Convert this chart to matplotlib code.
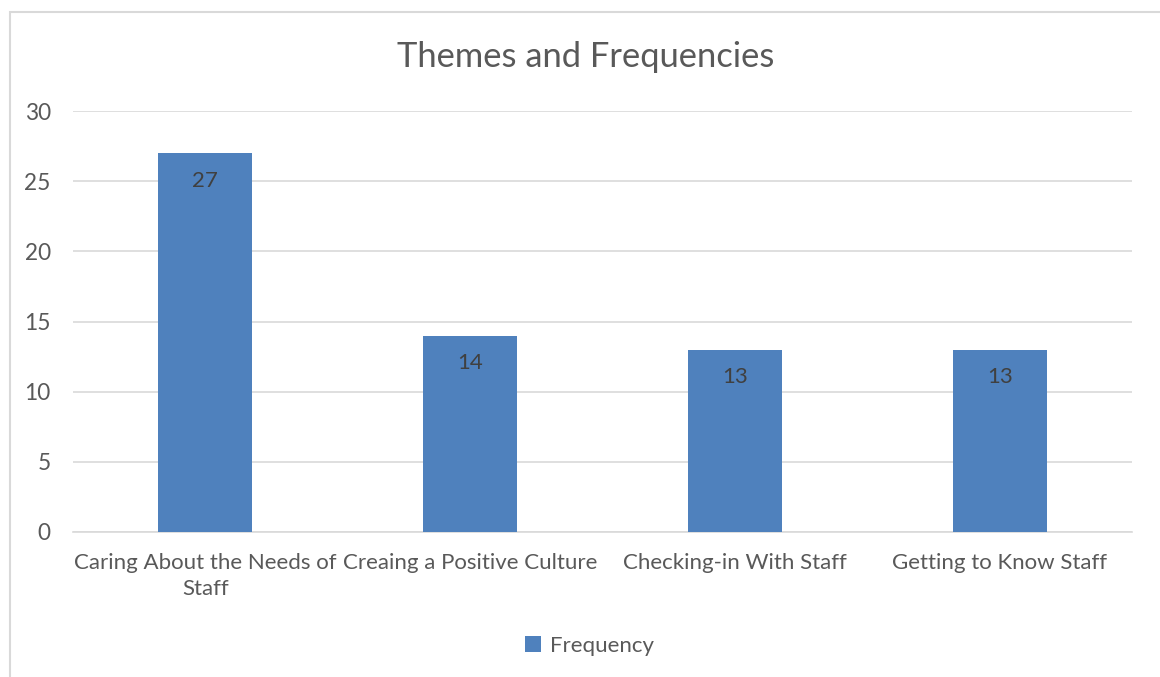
import numpy as np
import matplotlib.pyplot as plt
from matplotlib.patches import Rectangle

plt.rcParams['font.family'] = ['Lato', 'DejaVu Sans']

# data
themes = ["Caring About the Needs of\nStaff", "Creaing a Positive Culture",
          "Checking-in With Staff", "Getting to Know Staff"]
frequency = [27, 14, 13, 13]
yticks = [0, 5, 10, 15, 20, 25, 30]

bar_color = '#4F81BD'
text_color = '#595959'
grid_color = '#D9D9D9'

fig = plt.figure(figsize=(11.6, 6.77), dpi=100)
ax = fig.add_axes([73/1160, 1 - 532/677, (1132 - 73)/1160, (532 - 111)/677])

x = np.arange(len(themes))
bars = ax.bar(x, frequency, width=0.355, color=bar_color, label='Frequency', zorder=3)

# data labels inside the top of each bar
for b, v in zip(bars, frequency):
    ax.annotate(str(v), (b.get_x() + b.get_width()/2, v), xytext=(0, -20),
                textcoords='offset points', ha='center', va='center',
                fontsize=16, color='#404040', zorder=4)

ax.set_xlim(-0.5, len(themes) - 0.5)
ax.set_ylim(0, 30)
ax.set_yticks(yticks)
ax.set_xticks(x)
ax.set_xticklabels(themes, fontsize=16, color=text_color, linespacing=1.4)
ax.tick_params(axis='y', labelsize=16.3, labelcolor=text_color, length=0, pad=16)
ax.tick_params(axis='x', length=0, pad=15)
ax.yaxis.grid(True, color=grid_color, linewidth=1.2, zorder=0)
for s in ax.spines.values():
    s.set_visible(False)
ax.spines['bottom'].set_visible(True)
ax.spines['bottom'].set_color(grid_color)
ax.spines['bottom'].set_linewidth(1.2)

fig.text(0.505, 1 - 57/677, "Themes and Frequencies", ha='center', va='center',
         fontsize=24.8, color=text_color)

fig.legend(loc='center', bbox_to_anchor=(0.508, 1 - 646/677), frameon=False,
           fontsize=16, labelcolor=text_color, handlelength=0.7, handleheight=0.7,
           handletextpad=0.4)

# chart border (left and top edges visible)
fig.add_artist(Rectangle((10/1160, -0.1), 1.2, 1 - 12/677 + 0.1,
                         transform=fig.transFigure, fill=False,
                         edgecolor=grid_color, linewidth=1.5))

fig.savefig('out.png', dpi=100)
